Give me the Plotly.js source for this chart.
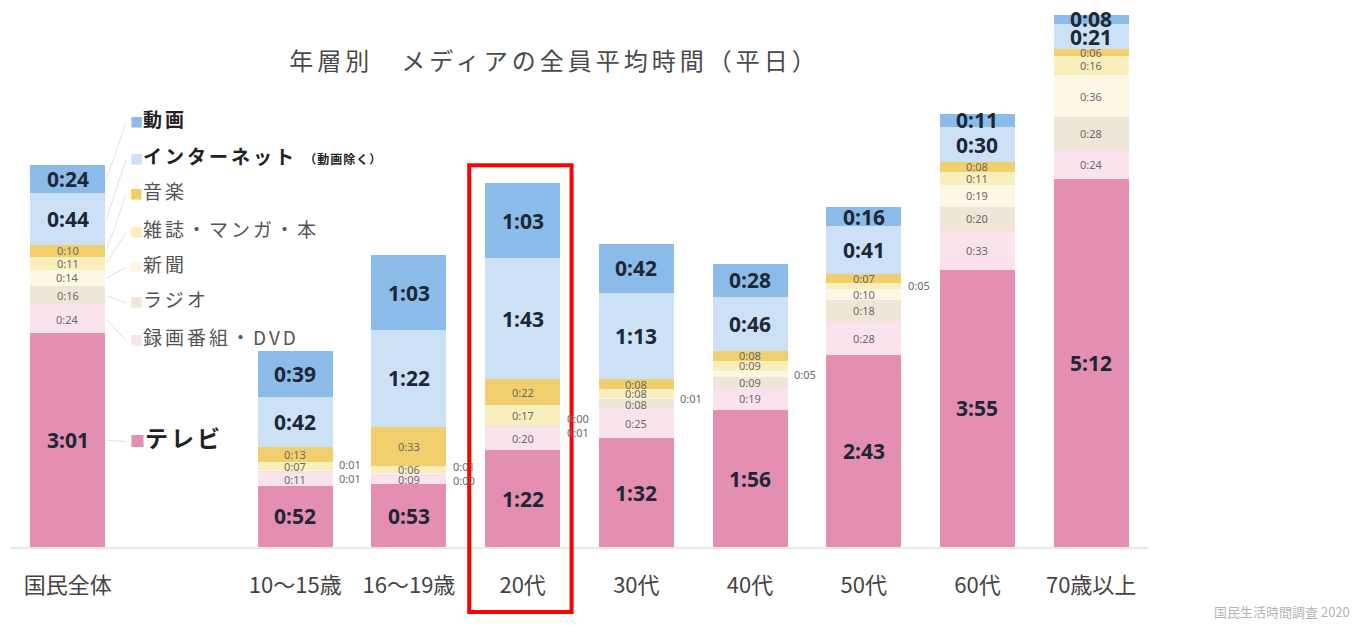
<!DOCTYPE html>
<html><head><meta charset="utf-8">
<script src="https://cdn.plot.ly/plotly-3.0.1.min.js"></script>
<style>html,body{margin:0;padding:0;background:#fff}#chart{width:1358px;height:626px}</style>
</head><body><div id="chart"></div>
<script>
// ---- data (minutes per weekday) ----
const categories = ['国民全体', ' ', '10～15歳', '16～19歳', '20代', '30代', '40代', '50代', '60代', '70歳以上'];
const seriesNames = ['テレビ', '録画番組・DVD', 'ラジオ', '新聞', '雑誌・マンガ・本', '音楽', 'インターネット（動画除く）', '動画'];
const tv       = [181, null, 52, 53, 82, 92, 116, 163, 235, 312];
const rokuga   = [24,  null, 11,  9, 20, 25,  19,  28,  33,  24];
const radio    = [16,  null,  1,  0,  1,  8,   9,  18,  20,  28];
const shinbun  = [14,  null,  1,  1,  0,  1,   5,  10,  19,  36];
const zasshi   = [11,  null,  7,  6, 17,  8,   9,   5,  11,  16];
const ongaku   = [10,  null, 13, 33, 22,  8,   8,   7,   8,   6];
const internet = [44,  null, 42, 82,103, 73,  46,  41,  30,  21];
const douga    = [24,  null, 39, 63, 63, 42,  28,  16,  11,   8];
const chartTitle = '年層別　メディアの全員平均時間（平日）';
const sourceText = '国民生活時間調査 2020';

// ---- styles ----
const series = [tv, rokuga, radio, shinbun, zasshi, ongaku, internet, douga];
const colors = ['#e48eb1', '#fbe3ee', '#eee7d8', '#fdf7e6', '#fbeebd', '#f1cf6c', '#cde1f6', '#8bbce9'];
const isBig = [true, false, false, false, false, false, true, true];
const FONT = 'Noto Sans, Noto Sans CJK JP, sans-serif';
const JFONT = 'Noto Sans CJK JP, Noto Sans, sans-serif';
const BIG = {family: FONT, size: 21, color: '#1d2736', weight: 700};
const SMALL = {family: FONT, size: 11, color: '#6a6a6a'};
const Y_MAX = 455;
const OUTSIDE_MAX = 5;
const fmt = v => Math.floor(v / 60) + ':' + String(v % 60).padStart(2, '0');

const traces = series.map((vals, i) => ({
  type: 'bar', x: categories, y: vals, name: seriesNames[i],
  marker: {color: colors[i], line: {width: 0}},
  textposition: 'none', hoverinfo: 'skip', showlegend: false
}));

const annotations = [];
const shapes = [];

categories.forEach((c, j) => {
  if (tv[j] == null) return;
  let cum = 0;
  const outs = [];
  series.forEach((vals, i) => {
    const v = vals[j];
    const mid = cum + v / 2;
    if (v <= OUTSIDE_MAX) outs.push({v, mid});
    else annotations.push({x: c, y: mid, xref: 'x', yref: 'y', text: fmt(v), showarrow: false, font: isBig[i] ? BIG : SMALL});
    cum += v;
  });
  outs.forEach((o, k) => {
    const ys = outs.length > 1 ? (k === 0 ? -6.5 : 6.5) : 0;
    annotations.push({x: c, y: o.mid, xref: 'x', yref: 'y', text: fmt(o.v), showarrow: false,
      xshift: 55, yshift: ys, font: SMALL});
  });
});

// ---- custom legend beside the first bar ----
const legendX = 0.53;               // x position in category units
const legendYpx = [437, 336, 298, 263, 228, 190, 155, 118]; // same order as series
const pxToY = py => (547 - py) / 537 * Y_MAX;
const LS = 'letter-spacing:3px';
const legendLabels = [
  '<b>テレビ</b>', '録画番組・DVD', 'ラジオ', '新聞', '雑誌・マンガ・本', '音楽',
  '<b>インターネット</b> <span style="font-size:12px;letter-spacing:1px"><b>（動画除く）</b></span>', '<b>動画</b>'
];
let cum0 = 0;
series.forEach((vals, i) => {
  const v = vals[0];
  const mid = cum0 + v / 2;
  cum0 += v;
  const ly = pxToY(legendYpx[i]);
  const big = i === 0;
  annotations.push({
    x: legendX, y: ly, xref: 'x', yref: 'y', xanchor: 'left', yanchor: 'middle', showarrow: false,
    text: '<span style="color:' + colors[i] + ';font-size:' + (big ? 15 : 13) + 'px">■</span><span style="' + LS + '">' + legendLabels[i] + '</span>',
    font: {family: JFONT, size: big ? 23 : 19, color: (isBig[i] ? '#222' : '#555')}
  });
  shapes.push({type: 'line', xref: 'x', yref: 'y', x0: 0.34, y0: mid, x1: legendX - 0.02, y1: ly - 4,
    line: {color: '#e2e2e2', width: 1}});
});

// red highlight box around 20代
const hi = categories.indexOf('20代');
shapes.push({type: 'rect', xref: 'paper', yref: 'paper',
  x0: (hi - 0.47 + 0.5) / categories.length, x1: (hi + 0.43 + 0.5) / categories.length,
  y0: -0.121, y1: 0.711, line: {color: '#ff0000', width: 4}, fillcolor: 'rgba(0,0,0,0)'});

annotations.push({xref: 'paper', yref: 'paper', x: 1.179, y: -0.121, xanchor: 'right', yanchor: 'middle',
  text: sourceText, showarrow: false, font: {family: JFONT, size: 13, color: '#b5b5b5'}});

const layout = {
  width: 1358, height: 626,
  margin: {l: 11, r: 210, t: 10, b: 79},
  paper_bgcolor: '#fff', plot_bgcolor: '#fff',
  barmode: 'stack', bargap: 0.34,
  showlegend: false,
  title: {text: '<span style="letter-spacing:4px">' + chartTitle + '</span>',
    x: 0.478, xref: 'paper', xanchor: 'center', y: 0.901, yref: 'container', yanchor: 'middle',
    font: {family: JFONT, size: 24, color: '#4a4a4a'}},
  xaxis: {type: 'category', range: [-0.5, 9.5], showgrid: false, zeroline: false,
    showline: true, linecolor: '#e8e8e8', linewidth: 2,
    ticks: 'outside', ticklen: 18, tickcolor: 'rgba(0,0,0,0)',
    tickfont: {family: JFONT, size: 22, color: '#444'}, fixedrange: true},
  yaxis: {range: [0, Y_MAX], visible: false, fixedrange: true},
  annotations, shapes
};

Plotly.newPlot('chart', traces, layout, {displayModeBar: false, staticPlot: true});
</script>
</body></html>
